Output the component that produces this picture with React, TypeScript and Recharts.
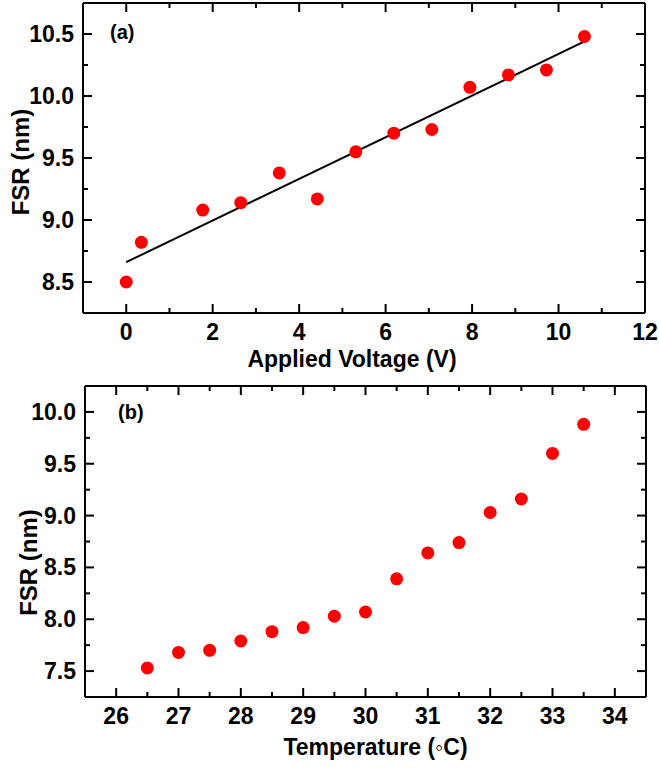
import React from "react"
import { ScatterChart, Scatter, XAxis, YAxis } from "recharts"

// panel (a): FSR vs applied voltage
const voltage = [0, 0.35, 1.77, 2.65, 3.54, 4.42, 5.31, 6.19, 7.07, 7.95, 8.84, 9.72, 10.6]
const fsrVoltage = [8.5, 8.82, 9.08, 9.14, 9.38, 9.17, 9.55, 9.7, 9.73, 10.07, 10.17, 10.21, 10.48]
const fitVoltage = [0, 10.6]
const fitFsr = [8.66, 10.44]
const voltageTicks = [0, 1, 2, 3, 4, 5, 6, 7, 8, 9, 10, 11, 12]
const voltageLabels = [0, 2, 4, 6, 8, 10, 12]
const fsrTicksA = [8.5, 8.75, 9, 9.25, 9.5, 9.75, 10, 10.25, 10.5]
const fsrLabelsA = [8.5, 9, 9.5, 10, 10.5]

// panel (b): FSR vs temperature
const temperature = [26.5, 27, 27.5, 28, 28.5, 29, 29.5, 30, 30.5, 31, 31.5, 32, 32.5, 33, 33.5]
const fsrTemp = [7.53, 7.68, 7.7, 7.79, 7.88, 7.92, 8.03, 8.07, 8.39, 8.64, 8.74, 9.03, 9.16, 9.6, 9.88]
const tempTicks = [26, 26.5, 27, 27.5, 28, 28.5, 29, 29.5, 30, 30.5, 31, 31.5, 32, 32.5, 33, 33.5, 34]
const tempLabels = [26, 27, 28, 29, 30, 31, 32, 33, 34]
const fsrTicksB = [7.5, 7.75, 8, 8.25, 8.5, 8.75, 9, 9.25, 9.5, 9.75, 10]
const fsrLabelsB = [7.5, 8, 8.5, 9, 9.5, 10]

const FONT = '"Liberation Sans", Arial, Helvetica, sans-serif'
const INK = "#000"

const zip = (xs: number[], ys: number[]) => xs.map((x, i) => ({ x, y: ys[i] }))

const dataA = zip(voltage, fsrVoltage)
const fitA = zip(fitVoltage, fitFsr)
const dataB = zip(temperature, fsrTemp)

type Side = "bottom" | "left" | "top" | "right"

// inward ticks like Origin, labels only on the major ones
function inTick(side: Side, labels: number[], fmt: (v: number) => string = String) {
  return (props: any) => {
    const { x, y, payload } = props
    const v = payload.value
    const major = labels.includes(v)
    const len = major ? 9 : 5
    let line
    let label = null
    if (side === "bottom") {
      line = <line x1={x} y1={y} x2={x} y2={y - len} stroke={INK} strokeWidth={2} />
      if (major)
        label = (
          <text x={x} y={y + 27} textAnchor="middle" fontSize={23} fontWeight="bold" fontFamily={FONT} fill={INK}>
            {fmt(v)}
          </text>
        )
    } else if (side === "left") {
      line = <line x1={x} y1={y} x2={x + len} y2={y} stroke={INK} strokeWidth={2} />
      if (major)
        label = (
          <text x={x - 9} y={y + 8} textAnchor="end" fontSize={23} fontWeight="bold" fontFamily={FONT} fill={INK}>
            {fmt(v)}
          </text>
        )
    } else if (side === "top") {
      line = <line x1={x} y1={y} x2={x} y2={y + len} stroke={INK} strokeWidth={2} />
    } else {
      line = <line x1={x} y1={y} x2={x - len} y2={y} stroke={INK} strokeWidth={2} />
    }
    return (
      <g>
        {line}
        {label}
      </g>
    )
  }
}

const dot = (props: any) => <circle cx={props.cx} cy={props.cy} r={6.5} fill="#ff0000" />
const noDot = () => <g />

const axisLine = { stroke: INK, strokeWidth: 2 }
const oneDecimal = (v: number) => v.toFixed(1)

function xTitle(text: string, dx: number, dy: number) {
  return (p: any) => {
    const vb = p.viewBox
    return (
      <text x={vb.x + vb.width / 2 + dx} y={vb.y + dy} textAnchor="middle" fontSize={23} fontWeight="bold" fontFamily={FONT} fill={INK}>
        {text}
      </text>
    )
  }
}

function yTitle(text: string, cx: number, dy: number) {
  return (p: any) => {
    const vb = p.viewBox
    const cy = vb.y + vb.height / 2 + dy
    return (
      <text
        x={cx}
        y={cy}
        transform={`rotate(-90 ${cx} ${cy})`}
        textAnchor="middle"
        dominantBaseline="central"
        fontSize={24}
        fontWeight="bold"
        fontFamily={FONT}
        fill={INK}
      >
        {text}
      </text>
    )
  }
}

function panelTag(text: string, dx: number, dy: number) {
  return (p: any) => {
    const vb = p.viewBox
    return (
      <text x={vb.x + dx} y={vb.y + vb.height + dy} fontSize={20} fontWeight="bold" fontFamily={FONT} fill={INK}>
        {text}
      </text>
    )
  }
}

export default function App() {
  return (
    <div style={{ position: "absolute", left: 0, top: 0, width: 659, height: 769, background: "#fff", fontFamily: FONT }}>
      <ScatterChart width={659} height={380} margin={{ top: 2, right: 13, left: 0, bottom: 0 }}>
        <XAxis
          xAxisId="b"
          dataKey="x"
          type="number"
          domain={[-1, 12]}
          ticks={voltageTicks}
          interval={0}
          allowDataOverflow
          height={67}
          tickSize={0}
          tickMargin={0}
          axisLine={axisLine}
          tickLine={false}
          tick={inTick("bottom", voltageLabels)}
          label={xTitle("Applied Voltage (V)", -12, 54)}
        />
        <XAxis
          xAxisId="t"
          dataKey="x"
          orientation="top"
          type="number"
          domain={[-1, 12]}
          ticks={voltageTicks}
          interval={0}
          allowDataOverflow
          height={1}
          tickSize={0}
          tickMargin={0}
          axisLine={axisLine}
          tickLine={false}
          tick={inTick("top", voltageLabels)}
          label={panelTag("(a)", 27, 36)}
        />
        <YAxis
          yAxisId="l"
          dataKey="y"
          type="number"
          domain={[8.25, 10.75]}
          ticks={fsrTicksA}
          interval={0}
          allowDataOverflow
          width={83}
          tickSize={0}
          tickMargin={0}
          axisLine={axisLine}
          tickLine={false}
          tick={inTick("left", fsrLabelsA, oneDecimal)}
          label={yTitle("FSR (nm)", 20, 4)}
        />
        <YAxis
          yAxisId="r"
          dataKey="y"
          orientation="right"
          type="number"
          domain={[8.25, 10.75]}
          ticks={fsrTicksA}
          interval={0}
          allowDataOverflow
          width={1}
          tickSize={0}
          tickMargin={0}
          axisLine={axisLine}
          tickLine={false}
          tick={inTick("right", fsrLabelsA)}
        />
        {/* invisible series so the top/right frame axes get drawn */}
        <Scatter xAxisId="t" yAxisId="r" data={dataA} shape={noDot} isAnimationActive={false} />
        <Scatter
          xAxisId="b"
          yAxisId="l"
          data={fitA}
          shape={noDot}
          line={{ stroke: INK, strokeWidth: 2 }}
          isAnimationActive={false}
        />
        <Scatter xAxisId="b" yAxisId="l" data={dataA} shape={dot} isAnimationActive={false} />
      </ScatterChart>

      <ScatterChart width={659} height={389} margin={{ top: 5, right: 12, left: 0, bottom: 0 }}>
        <XAxis
          xAxisId="b"
          dataKey="x"
          type="number"
          domain={[25.5, 34.5]}
          ticks={tempTicks}
          interval={0}
          allowDataOverflow
          height={72}
          tickSize={0}
          tickMargin={0}
          axisLine={axisLine}
          tickLine={false}
          tick={inTick("bottom", tempLabels)}
          label={xTitle("Temperature (\u25E6C)", 10, 58)}
        />
        <XAxis
          xAxisId="t"
          dataKey="x"
          orientation="top"
          type="number"
          domain={[25.5, 34.5]}
          ticks={tempTicks}
          interval={0}
          allowDataOverflow
          height={1}
          tickSize={0}
          tickMargin={0}
          axisLine={axisLine}
          tickLine={false}
          tick={inTick("top", tempLabels)}
          label={panelTag("(b)", 33, 33)}
        />
        <YAxis
          yAxisId="l"
          dataKey="y"
          type="number"
          domain={[7.25, 10.25]}
          ticks={fsrTicksB}
          interval={0}
          allowDataOverflow
          width={85}
          tickSize={0}
          tickMargin={0}
          axisLine={axisLine}
          tickLine={false}
          tick={inTick("left", fsrLabelsB, oneDecimal)}
          label={yTitle("FSR (nm)", 28, 21)}
        />
        <YAxis
          yAxisId="r"
          dataKey="y"
          orientation="right"
          type="number"
          domain={[7.25, 10.25]}
          ticks={fsrTicksB}
          interval={0}
          allowDataOverflow
          width={1}
          tickSize={0}
          tickMargin={0}
          axisLine={axisLine}
          tickLine={false}
          tick={inTick("right", fsrLabelsB)}
        />
        <Scatter xAxisId="t" yAxisId="r" data={dataB} shape={noDot} isAnimationActive={false} />
        <Scatter xAxisId="b" yAxisId="l" data={dataB} shape={dot} isAnimationActive={false} />
      </ScatterChart>
    </div>
  )
}
